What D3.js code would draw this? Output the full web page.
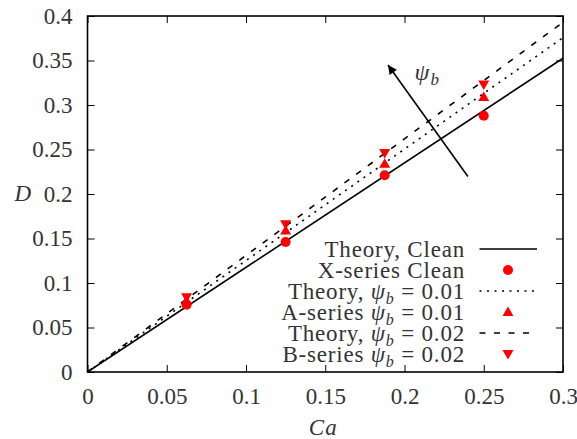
<!DOCTYPE html>
<html>
<head>
<meta charset="utf-8">
<script src="https://cdn.jsdelivr.net/npm/d3@7"></script>
<style>
  html, body { margin: 0; padding: 0; background: #fff; }
</style>
</head>
<body>
<div id="chart"></div>
<script>
// data
const caValues = [0.0625, 0.125, 0.1875, 0.25];
const xSeriesClean = [0.0757, 0.146, 0.221, 0.288];
const aSeries001 = [0.080, 0.159, 0.234, 0.309];
const bSeries002 = [0.084, 0.166, 0.246, 0.323];

const theoryCa = [0, 0.3];
const theoryClean = [0, 0.3525];
const theory001 = [0, 0.3757];
const theory002 = [0, 0.393];

const xTicks = [0, 0.05, 0.1, 0.15, 0.2, 0.25, 0.3];
const yTicks = [0, 0.05, 0.1, 0.15, 0.2, 0.25, 0.3, 0.35, 0.4];

// arrow showing increasing psi_b (data coords)
const arrowFrom = [0.24, 0.2197];
const arrowTo = [0.1896, 0.345];

const FONT = "Liberation Serif";
const width = 577, height = 439;
const margin = { top: 16, right: 14, bottom: 67, left: 87.5 };
const innerW = width - margin.left - margin.right;
const innerH = height - margin.top - margin.bottom;

const svg = d3.select("#chart")
    .append("svg")
    .attr("width", width)
    .attr("height", height);

const g = svg.append("g")
    .attr("transform", `translate(${margin.left},${margin.top})`);

const x = d3.scaleLinear().domain([0, 0.3]).range([0, innerW]);
const y = d3.scaleLinear().domain([0, 0.4]).range([innerH, 0]);

const fmt = d => d === 0 ? "0" : String(+d.toFixed(2));
const tickLen = 7;

// ticks (inward, mirrored on all sides)
const axisBottom = d3.axisBottom(x).tickValues(xTicks).tickFormat(fmt).tickSize(-tickLen).tickPadding(16);
const axisTop = d3.axisTop(x).tickValues(xTicks).tickFormat("").tickSize(-tickLen);
const axisLeft = d3.axisLeft(y).tickValues(yTicks).tickFormat(fmt).tickSize(-tickLen).tickPadding(15);
const axisRight = d3.axisRight(y).tickValues(yTicks).tickFormat("").tickSize(-tickLen);

function styleAxis(sel) {
    sel.attr("font-size", 23);
    sel.select(".domain").remove();
    sel.selectAll("line").attr("stroke", "#000").attr("stroke-width", 1);
    sel.selectAll("text").attr("fill", "#333");
}

g.append("g").attr("transform", `translate(0,${innerH})`).call(axisBottom).call(styleAxis);
g.append("g").call(axisTop).call(styleAxis);
g.append("g").call(axisLeft).call(styleAxis);
g.append("g").attr("transform", `translate(${innerW},0)`).call(axisRight).call(styleAxis);

// axis labels
g.append("text")
    .attr("x", x(0.15) - 2)
    .attr("y", innerH + 63)
    .attr("text-anchor", "middle")
    .attr("font-size", 23)
    .attr("font-style", "italic")
    .attr("letter-spacing", 1)
    .attr("fill", "#333")
    .text("Ca");

g.append("text")
    .attr("x", -73)
    .attr("y", y(0.2) + 7)
    .attr("font-size", 23)
    .attr("font-style", "italic")
    .attr("fill", "#333")
    .text("D");

// theory lines
g.append("clipPath").attr("id", "clip")
    .append("rect").attr("width", innerW).attr("height", innerH);

const line = d3.line().x(d => x(d[0])).y(d => y(d[1]));
const dotted = "2,5.5", dashed = "6,8.5";
const theoryLines = [
    { vals: theoryClean, dash: null },
    { vals: theory001, dash: dotted },
    { vals: theory002, dash: dashed }
];
theoryLines.forEach(t => {
    g.append("path")
        .datum(theoryCa.map((c, i) => [c, t.vals[i]]))
        .attr("clip-path", "url(#clip)")
        .attr("d", line)
        .attr("fill", "none")
        .attr("stroke", "#000")
        .attr("stroke-width", 1.6)
        .attr("stroke-dasharray", t.dash);
});

// markers
const red = "#ff0000";
const triUp = "M0,-5.5L5.5,4L-5.5,4Z";
const triDown = "M0,5.5L5.5,-4L-5.5,-4Z";

function drawMarkers(vals, kind) {
    const sel = g.append("g").selectAll("path")
        .data(caValues.map((c, i) => [c, vals[i]]))
        .enter();
    if (kind === "circle") {
        sel.append("circle")
            .attr("cx", d => x(d[0]))
            .attr("cy", d => y(d[1]))
            .attr("r", 5)
            .attr("fill", red);
    } else {
        sel.append("path")
            .attr("d", kind === "up" ? triUp : triDown)
            .attr("transform", d => `translate(${x(d[0])},${y(d[1])})`)
            .attr("fill", red);
    }
}
drawMarkers(xSeriesClean, "circle");
drawMarkers(aSeries001, "up");
drawMarkers(bSeries002, "down");

// arrow
svg.append("defs").append("marker")
    .attr("id", "arrowhead")
    .attr("viewBox", "0 0 10 10")
    .attr("refX", 10).attr("refY", 5)
    .attr("markerWidth", 13).attr("markerHeight", 9)
    .attr("markerUnits", "userSpaceOnUse")
    .attr("orient", "auto")
    .append("path")
    .attr("d", "M0,0L10,5L0,10Z")
    .attr("fill", "#000");

g.append("line")
    .attr("x1", x(arrowFrom[0])).attr("y1", y(arrowFrom[1]))
    .attr("x2", x(arrowTo[0])).attr("y2", y(arrowTo[1]))
    .attr("stroke", "#000")
    .attr("stroke-width", 1.6)
    .attr("marker-end", "url(#arrowhead)");

const psiLabel = g.append("text")
    .attr("x", x(0.2) + 10)
    .attr("y", y(0.33) + 2)
    .attr("font-size", 24)
    .attr("font-style", "italic")
    .attr("fill", "#333");
psiLabel.append("tspan").text("ψ");
psiLabel.append("tspan").attr("font-size", 17).attr("dy", 5).attr("dx", 1).text("b");

// legend
const legendRows = [
    { label: "Theory, Clean", type: "line", dash: null },
    { label: "X-series Clean", type: "circle" },
    { label: "Theory, ", psi: "0.01", type: "line", dash: dotted },
    { label: "A-series ", psi: "0.01", type: "up" },
    { label: "Theory, ", psi: "0.02", type: "line", dash: dashed },
    { label: "B-series ", psi: "0.02", type: "down" }
];
const legend = svg.append("g");
const textRight = 465, sampleX1 = 479.5, sampleX2 = 537, markX = 508;
legendRows.forEach((r, i) => {
    const cy = 249 + i * 21;
    const t = legend.append("text")
        .attr("x", textRight)
        .attr("y", cy + 7.5)
        .attr("text-anchor", "end")
        .attr("font-size", 23)
        .attr("letter-spacing", 0.8)
        .attr("fill", "#333");
    t.append("tspan").text(r.label);
    if (r.psi) {
        t.append("tspan").attr("font-style", "italic").text("ψ");
        t.append("tspan").attr("font-style", "italic").attr("font-size", 16).attr("dy", 5).text("b");
        t.append("tspan").attr("dy", -5).text(" = " + r.psi);
    }
    if (r.type === "line") {
        legend.append("line")
            .attr("x1", sampleX1).attr("x2", sampleX2)
            .attr("y1", cy).attr("y2", cy)
            .attr("stroke", "#000")
            .attr("stroke-width", 1.6)
            .attr("stroke-dasharray", r.dash);
    } else if (r.type === "circle") {
        legend.append("circle").attr("cx", markX).attr("cy", cy).attr("r", 5).attr("fill", red);
    } else {
        legend.append("path")
            .attr("d", r.type === "up" ? triUp : triDown)
            .attr("transform", `translate(${markX},${cy})`)
            .attr("fill", red);
    }
});

// frame
g.append("rect")
    .attr("width", innerW)
    .attr("height", innerH)
    .attr("fill", "none")
    .attr("stroke", "#000")
    .attr("stroke-width", 1.6);

// serif font on every text
svg.selectAll("text").attr("font-family", FONT);
</script>
</body>
</html>
